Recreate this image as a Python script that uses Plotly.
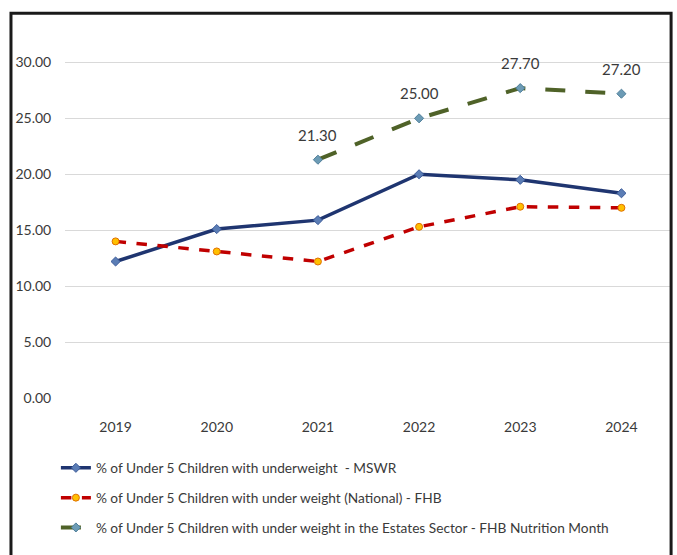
import plotly.graph_objects as go

years = ["2019", "2020", "2021", "2022", "2023", "2024"]
mswr = [12.2, 15.1, 15.9, 20.0, 19.5, 18.3]
fhb_national = [14.0, 13.1, 12.2, 15.3, 17.1, 17.0]
estates_years = ["2021", "2022", "2023", "2024"]
estates = [21.3, 25.0, 27.7, 27.2]
y_ticks = [0, 5, 10, 15, 20, 25, 30]

names = [
    "% of Under 5 Children with underweight  - MSWR",
    "% of Under 5 Children with under weight (National) - FHB",
    "% of Under 5 Children with under weight in the Estates Sector - FHB Nutrition Month",
]

FONT = "Lato, Open Sans, sans-serif"
TXT = "#3A3A3A"

fig = go.Figure()
fig.add_trace(go.Scatter(
    x=years, y=mswr, name=names[0], mode="lines+markers", legendgroup="a",
    line=dict(color="#1F3570", width=3.5),
    marker=dict(symbol="diamond", size=7, color="#5B7DB5", line=dict(color="#3A5A99", width=1)),
))
fig.add_trace(go.Scatter(
    x=years, y=fhb_national, name=names[1], mode="lines+markers", legendgroup="b",
    line=dict(color="#C00000", width=3.5, dash="dash"),
    marker=dict(symbol="circle", size=7, color="#FFC000", line=dict(color="#E07000", width=1)),
))
fig.add_trace(go.Scatter(
    x=estates_years, y=estates, name=names[2], mode="lines+markers", legendgroup="c",
    line=dict(color="#4F6228", width=4, dash="longdash"),
    marker=dict(symbol="diamond", size=7, color="#6C9BB5", line=dict(color="#4F7F9A", width=1)),
))

for xv, yv in zip(estates_years, estates):
    fig.add_annotation(x=years.index(xv), y=yv, text=f"{yv:.2f}", showarrow=False, yshift=25,
                       font=dict(family=FONT, size=15, color=TXT))

fig.add_shape(type="rect", xref="paper", yref="paper",
              x0=-0.089, x1=0.9985, y0=-0.47, y1=1.075,
              line=dict(color="#1A1A1A", width=3), layer="above")

fig.update_layout(
    width=677, height=555,
    margin=dict(l=65, r=5, t=40, b=157),
    paper_bgcolor="white", plot_bgcolor="white",
    font=dict(family=FONT, color=TXT),
    showlegend=True,
    legend=dict(x=-0.015, y=-0.152, xanchor="left", yanchor="top",
                orientation="v", tracegroupgap=9,
                font=dict(family=FONT, size=13.7, color=TXT),
                bgcolor="rgba(0,0,0,0)"),
    xaxis=dict(type="category", range=[-0.5, 5.5], showgrid=False, zeroline=False,
               showline=False, ticks="outside", ticklen=16, tickcolor="rgba(0,0,0,0)",
               tickfont=dict(family=FONT, size=14, color=TXT), fixedrange=True),
    yaxis=dict(range=[0, 32], tickvals=y_ticks, ticktext=[f"{v:.2f}" for v in y_ticks],
               showgrid=True, gridcolor="#D9D9D9", gridwidth=1, zeroline=False,
               showline=False, ticks="outside", ticklen=10, tickcolor="rgba(0,0,0,0)",
               tickfont=dict(family=FONT, size=14, color=TXT), fixedrange=True),
)

fig.write_html("out.html")
